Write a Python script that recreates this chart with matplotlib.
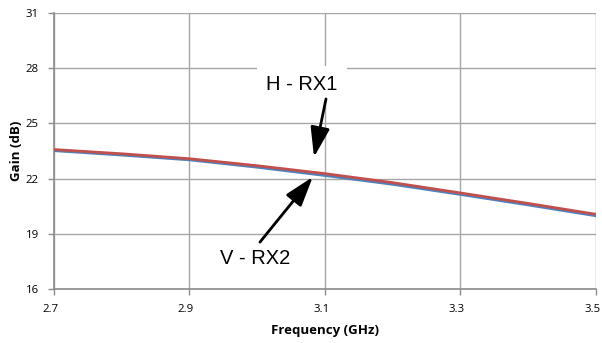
import matplotlib
matplotlib.use("Agg")
import matplotlib.pyplot as plt
import matplotlib.transforms as mtransforms

freq = [2.7, 2.8, 2.9, 3.0, 3.1, 3.2, 3.3, 3.4, 3.5]
gain_h_rx1 = [23.58, 23.35, 23.08, 22.70, 22.27, 21.78, 21.22, 20.65, 20.06]
gain_v_rx2 = [23.52, 23.28, 23.02, 22.62, 22.17, 21.69, 21.14, 20.57, 19.98]
x_ticks = [2.7, 2.9, 3.1, 3.3, 3.5]
y_ticks = [16, 19, 22, 25, 28, 31]

fig = plt.figure(figsize=(6.02, 3.43), dpi=100)
ax = fig.add_axes([0.0897, 0.1574, 0.9003, 0.8046])

ax.plot(freq, gain_v_rx2, color='#4f81bd', lw=2.0, zorder=3)
ax.plot(freq, gain_h_rx1, color='#c0504d', lw=2.0, zorder=4)

ax.set_xlim(2.7, 3.5)
ax.set_ylim(16, 31)
ax.set_xticks(x_ticks)
ax.set_yticks(y_ticks)
ax.set_xticklabels([f"{v:.1f}" for v in x_ticks])
ax.set_yticklabels([str(v) for v in y_ticks])
ax.grid(True, color='#a6a6a6', lw=1.0)
ax.set_axisbelow(True)
for s in ['top', 'right']:
    ax.spines[s].set_visible(False)
for s in ['left', 'bottom']:
    ax.spines[s].set_color('#8c8c8c')
    ax.spines[s].set_linewidth(1.2)
ax.tick_params(axis='both', colors='#8c8c8c', length=4, width=1, labelcolor='black',
               labelsize=8.2)
ax.tick_params(axis='x', pad=7)
ax.tick_params(axis='y', pad=7)
shift = mtransforms.ScaledTranslation(-0.035, 0, fig.dpi_scale_trans)
for lab in ax.get_xticklabels():
    lab.set_family('Open Sans')
    lab.set_transform(lab.get_transform() + shift)
for lab in ax.get_yticklabels():
    lab.set_family('Open Sans')
ax.set_xlabel('Frequency (GHz)', fontsize=9.5, fontweight='bold', family='Open Sans', labelpad=6)
ax.set_ylabel('Gain (dB)', fontsize=9.5, fontweight='bold', family='Open Sans', labelpad=2)

ax.text(3.066, 27.09, 'H - RX1', fontsize=14.5, family='Liberation Sans', ha='center', va='center',
        bbox=dict(facecolor='white', edgecolor='none', pad=7), zorder=5)
ax.text(2.997, 17.68, 'V - RX2', fontsize=14.5, family='Liberation Sans', ha='center', va='center',
        bbox=dict(facecolor='white', edgecolor='none', pad=2), zorder=5)

astyle = dict(arrowstyle='-|>,head_length=1.3,head_width=0.42', color='black', lw=2,
              mutation_scale=14, shrinkA=0, shrinkB=0)
ax.annotate('', xy=(3.0838, 23.17), xytext=(3.1015, 26.33), arrowprops=astyle, zorder=6)
ax.annotate('', xy=(3.082, 22.09), xytext=(3.004, 18.55), arrowprops=astyle, zorder=6)

fig.savefig('out.png', dpi=100)
